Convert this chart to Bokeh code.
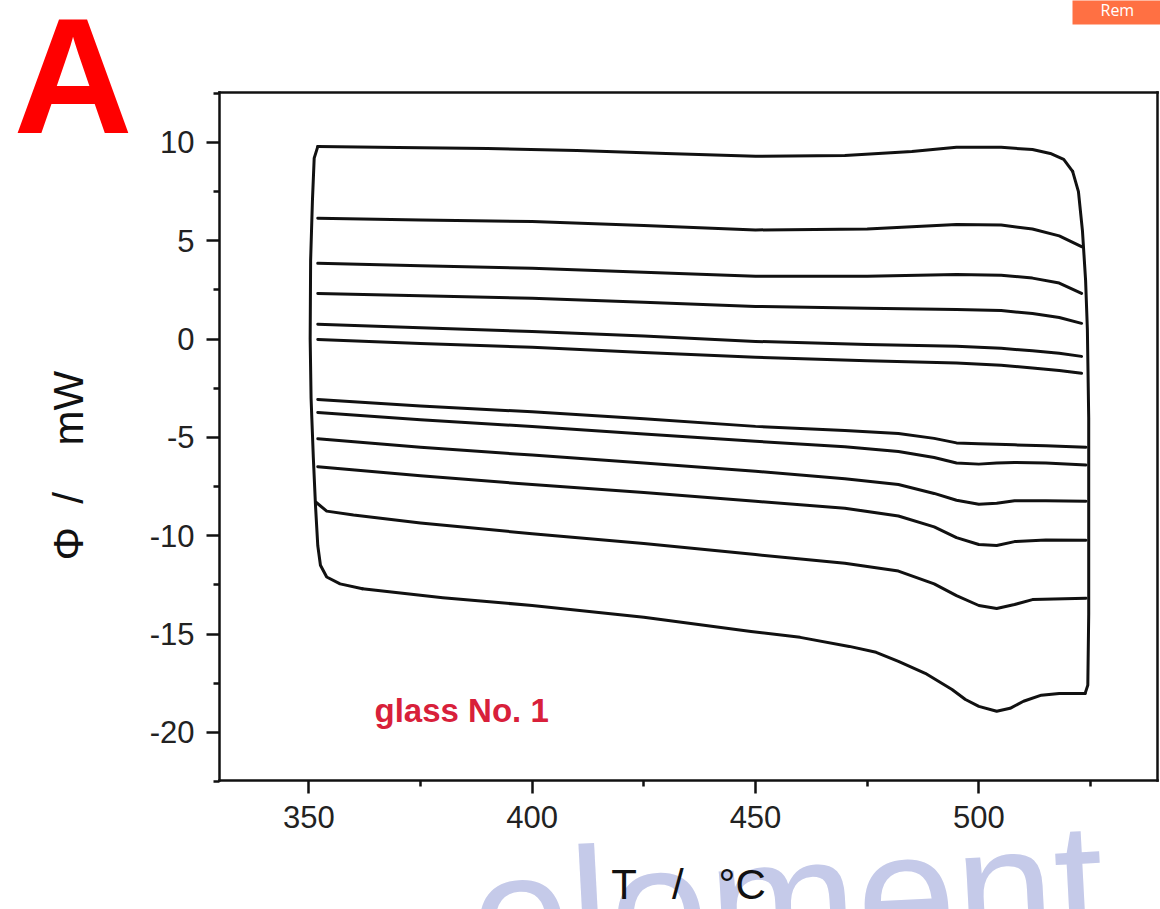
from bokeh.plotting import figure
from bokeh.models import Range1d, FixedTicker, Label, BoxAnnotation, LinearAxis
from bokeh.embed import file_html
from bokeh.resources import INLINE

# Heat flow loops of glass No. 1: cooling traces (upper) and heating traces (lower)
T_up = [352, 375, 400, 425, 450, 475, 495, 505, 512, 518, 523]
phi_c2 = [6.14, 6.06, 5.98, 5.78, 5.55, 5.6, 5.83, 5.8, 5.6, 5.25, 4.7]
phi_c3 = [3.85, 3.73, 3.6, 3.4, 3.19, 3.2, 3.29, 3.25, 3.1, 2.85, 2.32]
phi_c4 = [2.32, 2.2, 2.07, 1.87, 1.66, 1.57, 1.51, 1.45, 1.3, 1.1, 0.8]
phi_c5 = [0.75, 0.57, 0.39, 0.15, -0.12, -0.27, -0.37, -0.47, -0.6, -0.72, -0.88]
phi_c6 = [-0.02, -0.22, -0.42, -0.68, -0.93, -1.1, -1.22, -1.33, -1.47, -1.6, -1.74]

T_top = [352, 370, 390, 410, 430, 450, 470, 485, 495, 505, 512, 516, 519, 521]
phi_top = [9.79, 9.74, 9.69, 9.59, 9.44, 9.3, 9.34, 9.54, 9.75, 9.75, 9.64, 9.44, 9.14, 8.53]

T_low = [352, 375, 400, 425, 450, 470, 482, 490, 495, 500, 504, 508, 515, 524]
phi_h1 = [-3.07, -3.4, -3.7, -4.05, -4.44, -4.65, -4.8, -5.05, -5.28, -5.32, -5.35, -5.38, -5.42, -5.5]
phi_h2 = [-3.73, -4.1, -4.45, -4.83, -5.2, -5.48, -5.72, -6.02, -6.3, -6.36, -6.3, -6.28, -6.3, -6.4]
phi_h3 = [-5.07, -5.5, -5.9, -6.3, -6.72, -7.1, -7.4, -7.85, -8.2, -8.4, -8.35, -8.22, -8.22, -8.25]
phi_h4 = [-6.49, -6.95, -7.4, -7.8, -8.25, -8.6, -9.0, -9.55, -10.1, -10.45, -10.5, -10.3, -10.22, -10.23]

T_h5 = [351.6, 354, 360, 375, 400, 425, 450, 470, 482, 490, 495, 500, 504, 508, 512, 524]
phi_h5 = [-8.3, -8.75, -8.95, -9.35, -9.9, -10.4, -10.96, -11.4, -11.8, -12.45, -13.05, -13.55, -13.7, -13.5, -13.25, -13.18]

T_h6 = [362, 380, 400, 425, 449, 460, 471, 477, 482, 488, 494, 497, 500, 504, 507, 510, 514, 518, 523.8]
phi_h6 = [-12.7, -13.15, -13.55, -14.15, -14.87, -15.17, -15.63, -15.93, -16.39, -17.0, -17.82,
          -18.33, -18.68, -18.93, -18.78, -18.42, -18.11, -18.02, -18.02]

# isothermal edges joining the runs
T_left = [352, 351.2, 350.8, 350.4, 350.3, 350.5, 351.0, 351.5, 352.0, 352.6, 354, 357, 362]
phi_left = [9.79, 9.2, 7.0, 4.0, 0.0, -3.0, -6.0, -8.5, -10.5, -11.5, -12.1, -12.45, -12.7]
T_right = [521, 522.3, 523.2, 523.9, 524.3, 524.6, 524.6, 524.4, 523.8]
phi_right = [8.53, 7.5, 5.5, 3.0, 0.5, -4.0, -14.0, -17.6, -18.02]

x_ticks = [350, 400, 450, 500]
x_minor = [375, 425, 475, 525]
y_ticks = [-20, -15, -10, -5, 0, 5, 10]
y_minor = [-22.5, -17.5, -12.5, -7.5, -2.5, 2.5, 7.5, 12.5]

# axis box limits (data) and its pixel placement on the 1160 x 909 canvas
X0, X1 = 330, 540
Y0, Y1 = -22.45, 12.54
BOX_L, BOX_R, BOX_T, BOX_B = 219, 1157, 92, 780
W, H = 1160, 909
SX = (X1 - X0) / (BOX_R - BOX_L)
SY = (Y1 - Y0) / (BOX_B - BOX_T)


def dx(px):
    return X0 + (px - BOX_L) * SX


def dy(py):
    return Y1 - (py - BOX_T) * SY


p = figure(width=W, height=H, x_range=Range1d(dx(0), dx(W)), y_range=Range1d(dy(H), dy(0)),
           output_backend="svg", toolbar_location=None, title=None, min_border=0)
p.background_fill_color = "white"
p.border_fill_color = "white"
p.outline_line_color = None
p.grid.visible = False

xax = p.below[0]
yax = p.left[0]

# watermark behind everything (labels are anchored at the bottom of their text box)
p.add_layout(Label(x=dx(476), y=dy(1016), text="element", text_font="Liberation Sans",
                   text_font_size="178px", text_color="#c5cae9", angle=0.053,
                   level="underlay"))

curves = [(T_top, phi_top), (T_up, phi_c2), (T_up, phi_c3), (T_up, phi_c4), (T_up, phi_c5),
          (T_up, phi_c6), (T_low, phi_h1), (T_low, phi_h2), (T_low, phi_h3), (T_low, phi_h4),
          (T_h5, phi_h5), (T_h6, phi_h6), (T_left, phi_left), (T_right, phi_right)]
for xs, ys in curves:
    p.line(xs, ys, line_color="#111111", line_width=3, line_join="round", line_cap="round")

# axes sit on the box edges; the top and right edges are tick-free axes
top_axis = LinearAxis(ticker=FixedTicker(ticks=[]), fixed_location=Y1, bounds=(X0, X1))
right_axis = LinearAxis(ticker=FixedTicker(ticks=[]), fixed_location=X1, bounds=(Y0, Y1))
p.add_layout(top_axis, "above")
p.add_layout(right_axis, "right")

xax.fixed_location = Y0
xax.bounds = (X0, X1)
yax.fixed_location = X0
yax.bounds = (Y0, Y1)

for ax in (xax, yax, top_axis, right_axis):
    ax.axis_line_width = 2.5
    ax.axis_line_color = "#111111"
    ax.axis_line_cap = "square"
    ax.major_tick_line_width = 2.5
    ax.minor_tick_line_width = 2.5
    ax.major_tick_line_color = "#111111"
    ax.minor_tick_line_color = "#111111"
    ax.major_tick_in = 0
    ax.minor_tick_in = 0
    ax.major_tick_out = 13
    ax.minor_tick_out = 6
    ax.major_label_text_font = "Liberation Sans"
    ax.major_label_text_font_size = "31px"
    ax.major_label_text_color = "#222222"
    ax.axis_label_text_font = "Liberation Sans"
    ax.axis_label_text_font_size = "42px"
    ax.axis_label_text_font_style = "normal"
    ax.axis_label_text_color = "#111111"

for ax in (top_axis, right_axis):
    ax.major_tick_out = 0
    ax.minor_tick_out = 0

xax.ticker = FixedTicker(ticks=x_ticks, minor_ticks=x_minor)
yax.ticker = FixedTicker(ticks=y_ticks, minor_ticks=y_minor)
xax.major_label_overrides = {v: str(v) for v in x_ticks}
yax.major_label_overrides = {v: str(v) for v in y_ticks}
xax.major_label_standoff = 12
yax.major_label_standoff = 12
NB = "\u00a0"
xax.axis_label = "T" + NB * 3 + "/" + NB * 3 + "\u00b0C"
yax.axis_label = "\u03a6" + NB * 2 + "/" + NB * 4 + "mW" + NB * 5
xax.axis_label_standoff = 30
yax.axis_label_standoff = 55

p.add_layout(Label(x=dx(374), y=dy(728), text="glass No. 1", text_font="Liberation Sans",
                   text_font_style="bold", text_font_size="33px", text_color="#d8203a"))

p.add_layout(Label(x=dx(13), y=dy(167), text="A", text_font="Liberation Sans",
                   text_font_style="bold", text_font_size="165px", text_color="#ff0000"))

p.add_layout(BoxAnnotation(left=dx(1072), right=dx(W + 5), bottom=dy(24), top=dy(-5),
                           fill_color="#ff7043", fill_alpha=1.0, line_color=None))
p.add_layout(Label(x=dx(1100), y=dy(20), text="Rem", text_font="Open Sans",
                   text_font_size="16px", text_color="white"))

open("out.html", "w").write(file_html(p, INLINE))
